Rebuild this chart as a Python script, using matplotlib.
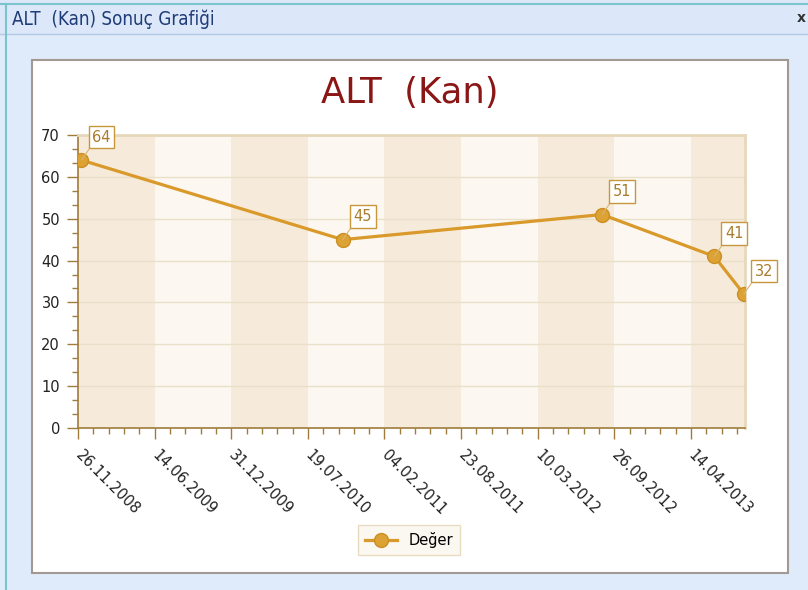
import matplotlib
matplotlib.use('Agg')
import matplotlib.pyplot as plt
from matplotlib.patches import Rectangle
from matplotlib.ticker import AutoMinorLocator, MultipleLocator
from datetime import datetime, timedelta

# data
dates = ['05.12.2008', '18.10.2010', '25.08.2012', '14.06.2013', '30.08.2013']
values = [64, 45, 51, 41, 32]
tick_labels = ['26.11.2008', '14.06.2009', '31.12.2009', '19.07.2010', '04.02.2011',
               '23.08.2011', '10.03.2012', '26.09.2012', '14.04.2013']
x_end = '02.09.2013'

W, H = 808, 590
fig = plt.figure(figsize=(W / 100, H / 100), dpi=100)
fig.patch.set_facecolor('#dfeafa')

def box(x0, y0, x1, y1):
    # pixel box (top-left origin) -> figure coords
    return (x0 / W, 1 - y1 / H), (x1 - x0) / W, (y1 - y0) / H

# window frame
xy, w, h = box(0, 0, W, 34)
fig.add_artist(Rectangle(xy, w, h, transform=fig.transFigure, facecolor='#dce8f9',
                         edgecolor='none', zorder=-2))
fig.add_artist(plt.Line2D([0, 1], [1 - 34 / H] * 2, transform=fig.transFigure,
                          color='#b4c8e4', lw=1, zorder=-1))
fig.add_artist(plt.Line2D([0, 1], [1 - 4 / H] * 2, transform=fig.transFigure,
                          color='#7cc4cc', lw=1.5, zorder=-1))
fig.add_artist(plt.Line2D([6 / W] * 2, [0, 1 - 4 / H], transform=fig.transFigure,
                          color='#7cc4cc', lw=1.5, zorder=-1))
fig.text(12 / W, 1 - 19 / H, 'ALT  (Kan) Sonuç Grafiği', fontsize=13.5, color='#1e3c78',
         fontstretch='condensed', va='center', ha='left')
fig.text(801 / W, 1 - 18 / H, 'x', fontsize=10, color='#333333', fontweight='bold',
         va='center', ha='center')

# white chart panel
xy, w, h = box(32, 60, 788, 573)
fig.add_artist(Rectangle(xy, w, h, transform=fig.transFigure, facecolor='white',
                         edgecolor='#a29a92', lw=1.5, zorder=-1))

fig.text(410 / W, 1 - 93 / H, 'ALT  (Kan)', fontsize=25.5, color='#8b1616',
         ha='center', va='center')

xy, w, h = box(78, 135, 745, 428)
ax = fig.add_axes([xy[0], xy[1], w, h])
ax.set_zorder(2)

fmt = '%d.%m.%Y'
xd = [datetime.strptime(d, fmt) for d in dates]
tick_d = [datetime.strptime(d, fmt) for d in tick_labels]
x0 = tick_d[0]
x1 = datetime.strptime(x_end, fmt)

# alternating background bands
band_cols = ['#f6ebdb', '#fcf8f1']
edges = tick_d + [x1]
for i in range(len(edges) - 1):
    ax.axvspan(edges[i], edges[i + 1], color=band_cols[i % 2], lw=0, zorder=0)

ax.set_xlim(x0, x1)
ax.set_ylim(0, 70)
ax.yaxis.set_major_locator(MultipleLocator(10))
ax.yaxis.set_minor_locator(AutoMinorLocator(3))
ax.set_xticks(tick_d)
ax.set_xticklabels(tick_labels, rotation=-45, ha='left', va='center', rotation_mode='anchor')
minor = []
d = x0
while d <= x1:
    minor.append(d)
    d += timedelta(days=40)
ax.set_xticks(minor, minor=True)

ax.grid(axis='y', color='#eadfc8', lw=1, zorder=1)
spine_col = '#a07c3c'
for s in ['left', 'bottom']:
    ax.spines[s].set_color(spine_col)
    ax.spines[s].set_linewidth(1.2)
for s in ['top', 'right']:
    ax.spines[s].set_color('#e6d8bc')
    ax.spines[s].set_linewidth(2)
ax.tick_params(which='major', length=8, color=spine_col, width=1, labelsize=10.5,
               labelcolor='#222222')
ax.tick_params(which='minor', length=4, color=spine_col, width=1)
ax.tick_params(axis='x', which='major', pad=10)
ax.tick_params(axis='y', which='major', pad=5)

ax.plot(xd, values, color='#d99a2b', lw=2.3, marker='o', markersize=10,
        markerfacecolor='#dca234', markeredgecolor='#cc8e22', zorder=3, label='Değer',
        clip_on=True)

for xv, yv in zip(xd, values):
    ax.annotate(str(yv), (xv, yv), xytext=(20, 23), textcoords='offset pixels',
                ha='center', va='center', fontsize=10.5, color='#a87c2c',
                bbox=dict(boxstyle='square,pad=0.25', fc='white', ec='#c8973c', lw=1),
                arrowprops=dict(arrowstyle='-', color='#d8b474', lw=0.8,
                                relpos=(0, 0), shrinkA=0, shrinkB=0),
                annotation_clip=False, zorder=5)

leg = fig.legend(loc='center', bbox_to_anchor=(409 / W, 1 - 540 / H), frameon=True,
                 fontsize=10.5, handlelength=2.2, borderpad=0.5, fancybox=False)
leg.get_frame().set_facecolor('#fbf6ee')
leg.get_frame().set_edgecolor('#e4d6b4')

fig.savefig('out.png', dpi=100)
